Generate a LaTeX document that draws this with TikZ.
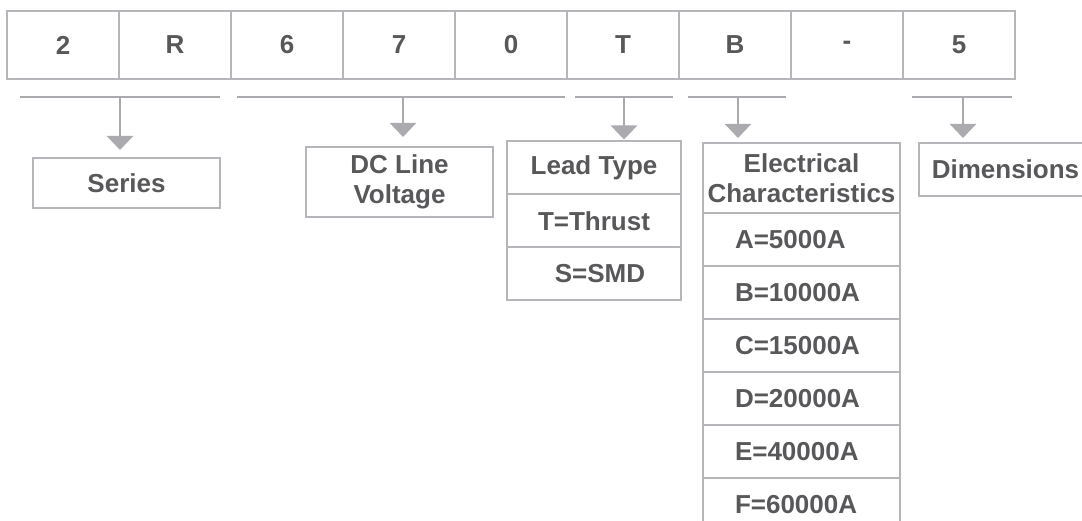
\documentclass[tikz,border=0pt]{standalone}
\usepackage{fontspec}
\setmainfont{Liberation Sans}
\usepackage{tikz}
\usetikzlibrary{positioning}
\usetikzlibrary{arrows.meta}
\definecolor{linegray}{HTML}{ABABAF}
\definecolor{boxgray}{HTML}{B6B6BA}
\definecolor{textgray}{HTML}{58585B}

\begin{document}
\begin{tikzpicture}[x=1pt,y=-1pt,
  node distance = 0pt,
  every node/.style = {font=\fontsize{26}{30}\selectfont\bfseries,text=textgray},
  digit/.style = {draw=boxgray,line width=2pt,minimum width=112pt,minimum height=68pt,
        inner sep=0pt,outer sep=0pt},
  namebox/.style = {draw=boxgray,line width=2pt,inner sep=0pt,outer sep=0pt,align=center},
  leadrow/.style = {namebox,minimum width=174pt,minimum height=53pt},
  elecrow/.style = {namebox,minimum height=53pt,text width=133pt,inner xsep=32pt,
        align=left},
  brace/.style = {draw=linegray,line width=2.5pt},
  pointer/.style = {draw=linegray,line width=2.5pt,
        -{Triangle[length=14pt,width=26pt,fill=linegray]}}
]
 \useasboundingbox (0,0) rectangle (1082,521);
 \clip (0,0) rectangle (1082,521);
 % part number
 \foreach \ch [count=\i] in {2,R,6,7,0,T,B,-,5}
   \node[digit] (d\i) at ({63+112*(\i-1)},45) {\ch};
 % fields
 \node[namebox,minimum width=187pt,minimum height=50pt] (ser) at (126.5,183) {Series};
 \node[namebox,minimum width=187pt,minimum height=70pt] (dcv) at (399.5,182)
      {DC Line\\Voltage};
 \node[leadrow] (lh) at (594,168) {Lead Type};
 \node[leadrow,below=of lh] (lt) {T=Thrust};
 \node[leadrow,below=of lt] (ls) {\hspace*{12pt}S=SMD};
 \node[namebox,minimum width=197pt,text width=197pt,minimum height=70pt] (eh)
      at (801.5,178) {Electrical\\Characteristics};
 \node[elecrow,below=of eh] (ea) {A=5000A};
 \node[elecrow,below=of ea] (eb) {B=10000A};
 \node[elecrow,below=of eb] (ec) {C=15000A};
 \node[elecrow,below=of ec] (ed) {D=20000A};
 \node[elecrow,below=of ed] (ee) {E=40000A};
 \node[elecrow,below=of ee] (ef) {F=60000A};
 \node[namebox,minimum width=173pt,minimum height=53pt] (dim) at (1005.5,169.5)
      {Dimensions};
 % brackets and arrows
 \foreach \a/\b/\p/\n/\s in {20/220/120/ser/8, 237/565/403/dcv/10, 575/673/624/lh/2,
     688/786/738/eh/5, 912/1012/963/dim/5} {
   \draw[brace] (\a,97) -- (\b,97);
   \coordinate (p\n) at (\p,97);
   \draw[pointer,shorten >=\s pt] (p\n) -- (p\n |- \n.north);
 }
\end{tikzpicture}
\end{document}
